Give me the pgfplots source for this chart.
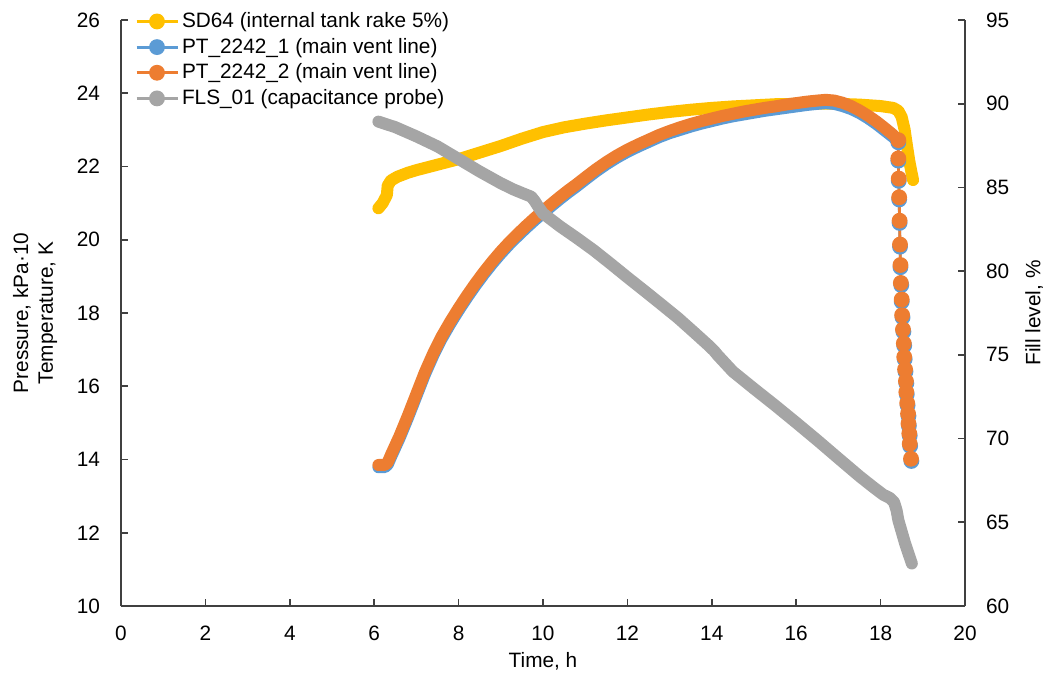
\documentclass[border=0pt]{standalone}
\usepackage{fontspec}
\setmainfont{Liberation Sans}
\usepackage{pgfplots}
\pgfplotsset{compat=1.18}
\definecolor{cY}{HTML}{FFC000}
\definecolor{cB}{HTML}{5B9BD5}
\definecolor{cO}{HTML}{ED7D31}
\definecolor{cG}{HTML}{A5A5A5}
\definecolor{axc}{HTML}{404040}
\pgfplotsset{
  base/.style={width=422bp, height=293bp, scale only axis,
    xmin=0, xmax=20,
    tick align=inside, major tick length=3.5bp,
    /pgf/number format/assume math mode=true,
    axis line style={axc, line width=0.8bp},
    tick style={axc, line width=0.8bp},
    minor tick num=0},
  thick line/.style={line width=6bp, line cap=round, line join=round},
  drop/.style={line width=1.4bp, mark=*, mark size=3.25bp, mark options={solid}},
}
\begin{document}
\begin{tikzpicture}[font=\fontsize{10.4bp}{12.4bp}\selectfont]
\begin{axis}[base, name=main,
  ymin=10, ymax=26, ytick={10,12,...,26}, xtick={0,2,...,20},
  axis x line*=bottom, axis y line*=left,
  yticklabel style={xshift=-7bp}, xticklabel style={yshift=-6.6bp},
  xlabel={Time, h},
  ylabel={Pressure, kPa·10\\Temperature, K},
  every axis x label/.style={at={(rel axis cs:0.5,0)}, anchor=base, yshift=-30.8bp},
  every axis y label/.style={at={(rel axis cs:0,0.5)}, xshift=-28.4bp, rotate=90, anchor=south, align=center},
]
% SD64
\addplot[cY, thick line] coordinates {
(6.10,20.86) (6.2,21.0) (6.3,21.22) (6.32,21.48) (6.4,21.62) (6.55,21.72) (6.8,21.83)
(7.0,21.9) (7.5,22.05) (8.0,22.2) (8.5,22.38) (9.0,22.56) (9.5,22.76) (10.0,22.94)
(10.5,23.07) (11.0,23.17) (11.5,23.26) (12.0,23.34) (12.5,23.42) (13.0,23.49) (13.5,23.55)
(14.0,23.6) (14.5,23.64) (15.0,23.67) (15.5,23.7) (16.0,23.71) (16.5,23.72) (17.0,23.71)
(17.5,23.69) (18.0,23.65) (18.3,23.6) (18.42,23.52) (18.5,23.35) (18.57,23.0) (18.62,22.6)
(18.68,22.15) (18.73,21.85) (18.77,21.63)};
% PT_2242_1
\addplot[cB, thick line] coordinates {
(6.10,13.79) (6.25,13.79) (6.32,13.86) (6.41,14.1) (6.6,14.58) (6.8,15.14) (7.0,15.73)
(7.2,16.32) (7.4,16.84) (7.6,17.3) (7.8,17.7) (8.0,18.07) (8.2,18.42) (8.4,18.75)
(8.6,19.06) (8.8,19.35) (9.0,19.62) (9.2,19.87) (9.4,20.1) (9.6,20.32) (9.8,20.53)
(10.0,20.73) (10.2,20.92) (10.4,21.11) (10.6,21.29) (10.8,21.46) (11.0,21.64) (11.25,21.86)
(11.5,22.06) (11.75,22.24) (12.0,22.4) (12.25,22.54) (12.5,22.67) (12.75,22.8) (13.0,22.91)
(13.25,23.0) (13.5,23.09) (13.75,23.17) (14.0,23.24) (14.25,23.31) (14.5,23.37) (14.75,23.42)
(15.0,23.47) (15.25,23.52) (15.5,23.56) (15.75,23.6) (16.0,23.64) (16.25,23.68) (16.5,23.71)
(16.7,23.73) (16.9,23.71) (17.1,23.65) (17.3,23.57) (17.5,23.46) (17.7,23.32) (17.9,23.16)
(18.1,22.98) (18.3,22.8) (18.42,22.66)};
\addplot[cB, drop] coordinates {
(18.42,22.66) (18.42,22.16) (18.43,21.61) (18.44,21.1) (18.45,20.46) (18.46,19.81)
(18.47,19.25) (18.49,18.76) (18.50,18.31) (18.52,17.88) (18.54,17.49) (18.56,17.11)
(18.57,16.74) (18.59,16.4) (18.61,16.08) (18.62,15.78) (18.64,15.48) (18.66,15.19)
(18.67,14.92) (18.69,14.65) (18.70,14.37) (18.73,13.96)};
% PT_2242_2
\addplot[cO, thick line] coordinates {
(6.10,13.85) (6.25,13.85) (6.32,13.92) (6.41,14.16) (6.6,14.64) (6.8,15.2) (7.0,15.79)
(7.2,16.38) (7.4,16.9) (7.6,17.36) (7.8,17.76) (8.0,18.13) (8.2,18.48) (8.4,18.81)
(8.6,19.12) (8.8,19.41) (9.0,19.68) (9.2,19.93) (9.4,20.16) (9.6,20.38) (9.8,20.59)
(10.0,20.79) (10.2,20.98) (10.4,21.17) (10.6,21.35) (10.8,21.52) (11.0,21.7) (11.25,21.92)
(11.5,22.12) (11.75,22.3) (12.0,22.46) (12.25,22.6) (12.5,22.73) (12.75,22.86) (13.0,22.97)
(13.25,23.07) (13.5,23.16) (13.75,23.24) (14.0,23.31) (14.25,23.38) (14.5,23.44) (14.75,23.5)
(15.0,23.55) (15.25,23.6) (15.5,23.64) (15.75,23.69) (16.0,23.73) (16.25,23.77) (16.5,23.8)
(16.7,23.82) (16.9,23.8) (17.1,23.74) (17.3,23.65) (17.5,23.53) (17.7,23.39) (17.9,23.23)
(18.1,23.05) (18.3,22.86) (18.42,22.72)};
\addplot[cO, drop] coordinates {
(18.42,22.72) (18.42,22.22) (18.43,21.67) (18.44,21.16) (18.45,20.52) (18.46,19.87)
(18.47,19.31) (18.48,18.82) (18.50,18.37) (18.51,17.94) (18.53,17.55) (18.55,17.17)
(18.56,16.80) (18.58,16.46) (18.60,16.14) (18.61,15.84) (18.63,15.54) (18.65,15.25)
(18.66,14.98) (18.68,14.71) (18.69,14.43) (18.72,14.02)};
\end{axis}
\begin{axis}[base,
  ymin=60, ymax=95, ytick={60,65,...,95},
  axis x line=none, axis y line*=right,
  yticklabel style={xshift=7bp},
  ylabel={Fill level, \%},
  every axis y label/.style={at={(rel axis cs:1,0.5)}, xshift=26.6bp, rotate=90, anchor=north},
  legend cell align=left,
  legend image code/.code={\draw[mark repeat=2,mark phase=2,#1] plot coordinates {(0bp,0bp) (10.25bp,0bp) (20.5bp,0bp)};},
  legend style={at={([xshift=7bp,yshift=3.8bp]rel axis cs:0,1)}, anchor=north west,
    draw=none, fill=none, inner sep=0pt, outer sep=0pt, row sep=3.8bp, column sep=1.5bp,
    nodes={inner sep=0pt}},
]
\addlegendimage{cY, line width=1.5bp, mark=*, mark size=3.2bp}
\addlegendentry{SD64 (internal tank rake 5\%)}
\addlegendimage{cB, line width=1.5bp, mark=*, mark size=3.2bp}
\addlegendentry{PT\_2242\_1 (main vent line)}
\addlegendimage{cO, line width=1.5bp, mark=*, mark size=3.2bp}
\addlegendentry{PT\_2242\_2 (main vent line)}
\addlegendimage{cG, line width=1.5bp, mark=*, mark size=3.2bp}
\addlegendentry{FLS\_01 (capacitance probe)}
% FLS_01
\addplot[cG, thick line, forget plot] coordinates {
(6.10,88.93) (6.5,88.6) (7.0,88.05) (7.5,87.45) (8.0,86.7) (8.5,85.95) (9.0,85.25)
(9.3,84.88) (9.55,84.62) (9.72,84.45) (9.8,84.2) (9.9,83.8) (10.0,83.45) (10.4,82.68)
(10.8,81.98) (11.2,81.25) (11.6,80.45) (12.0,79.63) (12.4,78.83) (12.8,78.02) (13.2,77.2)
(13.6,76.3) (13.95,75.5) (14.05,75.25) (14.15,74.95) (14.5,74.0) (15.0,72.98) (15.5,71.98)
(16.0,70.95) (16.5,69.9) (17.0,68.82) (17.5,67.75) (17.8,67.15) (18.06,66.65) (18.22,66.45)
(18.32,66.2) (18.38,65.7) (18.42,65.13) (18.58,63.74) (18.74,62.54)};
\end{axis}
\pgfresetboundingbox
\path[use as bounding box] ([shift={(-60.5bp,-35.5bp)}]main.south west) rectangle ([shift={(43.5bp,10bp)}]main.north east);
\end{tikzpicture}
\end{document}
